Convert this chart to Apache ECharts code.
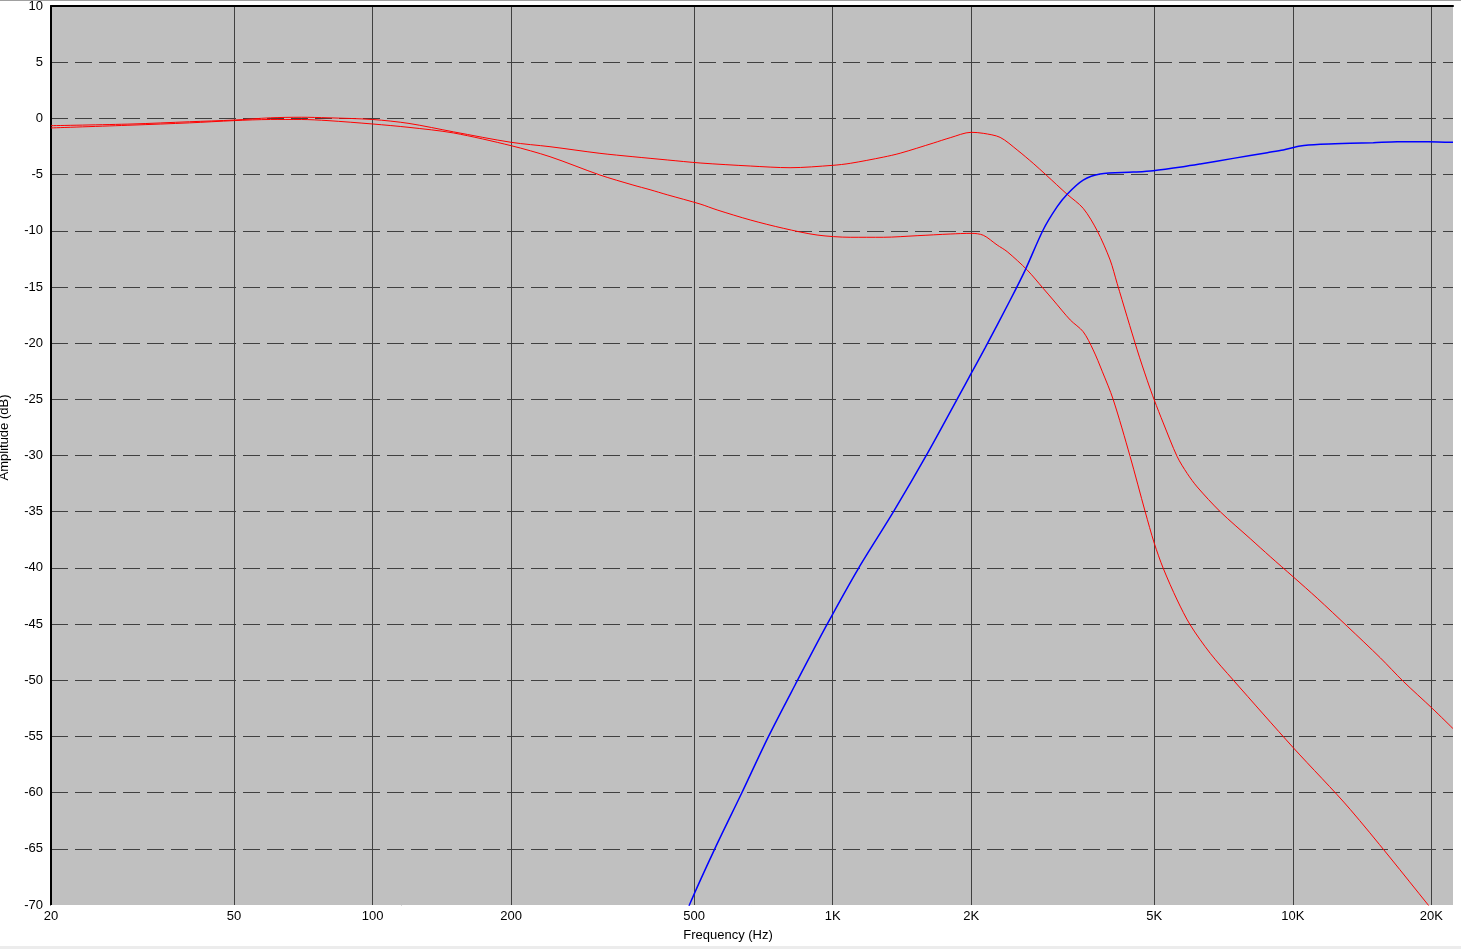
<!DOCTYPE html>
<html>
<head>
<meta charset="utf-8">
<script src="https://cdn.jsdelivr.net/npm/echarts@6/dist/echarts.min.js"></script>
<style>
html,body{margin:0;padding:0;background:#fff;}
#chart{width:1461px;height:949px;}
</style>
</head>
<body>
<div id="chart"></div>
<script>
// Frequency (Hz) and amplitude (dB) readings
const freqA = [20,30,40,50,60,70,80,100,120,150,200,243,312,368,437,515,662,808,1000,1092,1288,1402,1654,1801,2000,2125,2312,2518,2728,2911,3234,3503,3758,4009,4153,4590,4826,5000,5230,5608,5897,6200,6956,8084,8934,10025,11303,13137,15497,17389,20100,22300];
const dbA   = [-0.65,-0.5,-0.3,-0.15,0.05,0.1,0.05,-0.1,-0.45,-1.2,-2.13,-2.52,-3.11,-3.41,-3.7,-3.97,-4.24,-4.39,-4.18,-4.0,-3.45,-3.1,-2.2,-1.72,-1.24,-1.33,-1.69,-2.81,-4.0,-5.04,-6.76,-8.0,-10.0,-12.6,-14.7,-20.6,-23.3,-25.06,-27.1,-30.1,-31.6,-32.8,-35.0,-37.4,-39.0,-40.8,-42.7,-45.2,-48.0,-50.1,-52.5,-54.3];

const freqB = [20,30,40,50,60,70,80,100,120,150,200,243,312,368,401,437,515,561,662,781,925,1092,1288,1526,1801,2000,2125,2278,2395,2647,2867,3015,3284,3503,3683,3853,4070,4432,4778,5000,5230,5608,5987,6616,7424,10025,13336,19700,20500];
const dbB   = [-0.85,-0.6,-0.4,-0.2,-0.1,-0.1,-0.2,-0.5,-0.8,-1.3,-2.43,-3.41,-5.04,-5.93,-6.35,-6.8,-7.62,-8.15,-9.04,-9.78,-10.38,-10.58,-10.58,-10.44,-10.29,-10.23,-10.4,-11.27,-11.86,-13.49,-15.12,-16.16,-17.94,-18.98,-20.6,-22.5,-25.0,-30.1,-35.0,-37.8,-40.04,-42.86,-45.08,-47.6,-49.98,-56.0,-61.5,-70.0,-71.0];

const freqC = [480,490,555,634,725,829,971,1138,1356,1615,1893,2000,2146,2432,2621,2867,3076,3234,3503,3813,4500,4975,5780,6292,7424,8802,9536,10387,11477,13336,14960,16877,19700,22300];
const dbC   = [-71,-69.85,-64.96,-60.06,-55.02,-50.4,-45.08,-40.04,-35.0,-29.66,-24.5,-22.7,-20.4,-16.16,-13.5,-9.93,-7.86,-6.75,-5.5,-4.95,-4.78,-4.65,-4.3,-4.06,-3.56,-3.05,-2.81,-2.46,-2.31,-2.22,-2.16,-2.07,-2.07,-2.13];

const xTicks = [20,50,100,200,500,1000,2000,5000,10000,20000];
const xTickLabels = ['20','50','100','200','500','1K','2K','5K','10K','20K'];
const yMin = -70, yMax = 10, yStep = 5;
const xMin = 20, xMax = 22300;

function pairs(f, d){ return f.map((v,i)=>[v, d[i]]); }
function fmtX(v){
  let best = 0, bd = Infinity;
  xTicks.forEach((t,i)=>{ const d = Math.abs(Math.log10(v) - Math.log10(t)); if (d < bd){ bd = d; best = i; } });
  return xTickLabels[best];
}

const FONT = 'Liberation Sans, Arial, sans-serif';
const chart = echarts.init(document.getElementById('chart'), null, {renderer:'canvas'});
chart.setOption({
  animation:false,
  backgroundColor:'#ffffff',
  graphic:[
    {type:'rect', left:0, top:0, shape:{width:1461, height:1}, style:{fill:'#a0a0a0'}, silent:true},
    {type:'rect', left:0, top:946, shape:{width:1461, height:3}, style:{fill:'#ececec'}, silent:true}
  ],
  grid:{left:51, right:8, top:6, bottom:44, show:true, backgroundColor:'#c0c0c0', borderWidth:0,
        containLabel:false, outerBoundsMode:'none'},
  xAxis:[{
    type:'log', logBase:10, min:xMin, max:xMax, position:'bottom',
    axisLine:{show:true, onZero:false, lineStyle:{color:'#ffffff', width:1}},
    axisTick:{show:false, customValues:xTicks},
    axisLabel:{customValues:xTicks, formatter:fmtX, color:'#000', fontFamily:FONT, fontSize:13, margin:5},
    splitLine:{show:true, lineStyle:{color:'#404040', width:1, type:'solid'}},
    minorTick:{show:false}, minorSplitLine:{show:false},
    name:'Frequency (Hz)', nameLocation:'middle', nameGap:24,
    nameTextStyle:{color:'#000', fontFamily:FONT, fontSize:13, padding:[0,48,0,0]}
  },{
    type:'log', logBase:10, min:xMin, max:xMax, position:'top',
    axisLine:{show:true, onZero:false, lineStyle:{color:'#000', width:2}},
    axisTick:{show:false}, axisLabel:{show:false}, splitLine:{show:false}
  }],
  yAxis:[{
    type:'value', min:yMin, max:yMax, interval:yStep, position:'left',
    axisLine:{show:true, onZero:false, lineStyle:{color:'#000', width:2}},
    axisTick:{show:false},
    axisLabel:{color:'#000', fontFamily:FONT, fontSize:13, margin:8},
    splitLine:{show:true, lineStyle:{color:'#404040', width:1, type:[17,7]}},
    name:'Amplitude (dB)', nameLocation:'middle', nameGap:40, nameRotate:90,
    nameTextStyle:{color:'#000', fontFamily:FONT, fontSize:13, padding:[0,0,0,36]}
  },{
    type:'value', min:yMin, max:yMax, interval:yStep, position:'right',
    axisLine:{show:true, onZero:false, lineStyle:{color:'#ffffff', width:1}},
    axisTick:{show:false}, axisLabel:{show:false}, splitLine:{show:false}
  }],
  series:[
    {type:'line', name:'A', data:pairs(freqA,dbA), showSymbol:false, smooth:0.3, clip:true,
     lineStyle:{color:'#ff0000', width:1}, z:3},
    {type:'line', name:'B', data:pairs(freqB,dbB), showSymbol:false, smooth:0.3, clip:true,
     lineStyle:{color:'#ff0000', width:1}, z:3},
    {type:'line', name:'C', data:pairs(freqC,dbC), showSymbol:false, smooth:0.3, clip:true,
     lineStyle:{color:'#0000ff', width:1.5}, z:4}
  ]
});
</script>
</body>
</html>
